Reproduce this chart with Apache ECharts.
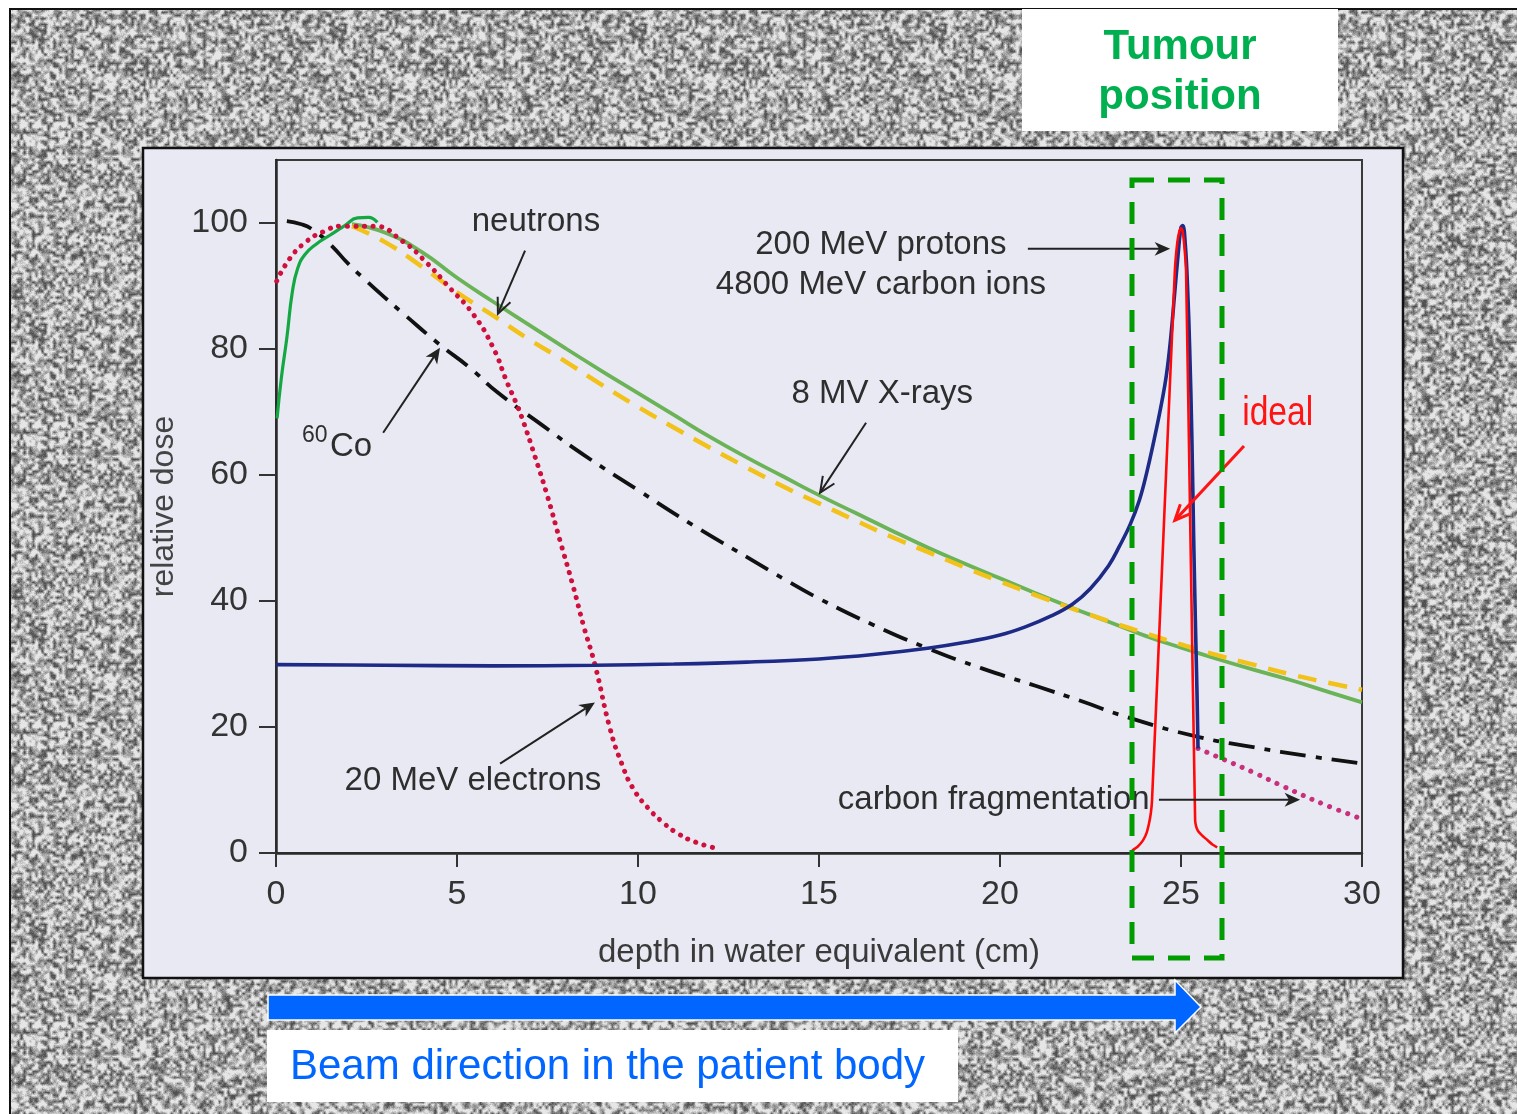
<!DOCTYPE html>
<html>
<head>
<meta charset="utf-8">
<script src="https://cdn.jsdelivr.net/npm/echarts@6/dist/echarts.min.js"></script>
<style>html,body{margin:0;padding:0;background:#fff}#c{width:1517px;height:1114px}</style>
</head>
<body>
<div id="c"></div>
<script>
// ---------------- data (depth cm, relative dose) ----------------
const xTicks = [0, 5, 10, 15, 20, 25, 30];
const yTicks = [0, 20, 40, 60, 80, 100];

const co60 = [[0.3,100.3],[0.7,99.8],[1,99],[1.5,96.6],[2,93.5],[2.5,90.8],[3,88.2],[3.5,85.7],[4.5,80.8],[5.36,77],[6.1,73.2],[7.38,67.8],[8.5,63.2],[10,57.6],[11.53,52],[13,47],[14,43.6],[15.03,40.3],[16.5,36.2],[18,32.5],[19.5,29.3],[21,26.5],[22.2,24.2],[23.6,21.4],[25.5,18.4],[27,16.8],[28.5,15.4],[30,14.2]];

const xrayBuildup = [[0.03,69],[0.15,75.5],[0.3,81.8],[0.45,89],[0.6,92.8],[0.8,95],[1.1,96.6],[1.5,98.1],[1.9,99.6],[2.25,100.8],[2.55,100.9],[2.8,100.1]];

const xrays = [[2.1,99.8],[3,98.5],[4,95.5],[5,91.3],[6,87.5],[7,83.8],[8,80.1],[9,76.5],[10,73],[11,69.5],[12,66],[13,62.8],[14,59.8],[15,56.8],[16,54],[17,51.2],[18,48.5],[19,46],[20,43.6],[21,41.2],[22,38.9],[23,36.7],[24,34.5],[25,32.6],[26,30.8],[27,29.1],[28,27.5],[29,25.7],[30,23.9]];

const neutrons = [[2.1,99.5],[3,97],[4,93.2],[5,89],[6,85.3],[7,81.5],[8,78],[9,74.3],[10,70.8],[11,67.5],[12,64.3],[13,61.2],[14,58.2],[15,55.5],[16,52.8],[17,50.2],[18,47.8],[19,45.4],[20,43.1],[21,40.9],[22,38.8],[23,36.8],[24,34.9],[25,33.1],[26,31.4],[27,29.9],[28,28.4],[29,27.1],[30,25.9]];

const electrons = [[0.02,90.8],[0.4,94.5],[0.85,97.1],[1.3,98.6],[1.8,99.5],[2.7,99.5],[3.5,97.1],[4.16,93.7],[4.8,89.7],[5.45,85.5],[6.0,80.2],[6.37,74.9],[6.65,71.2],[6.83,68.5],[7.15,63],[7.48,57],[7.85,49.5],[8.21,42.3],[8.5,36],[8.81,29.9],[9.23,19.7],[9.55,14.2],[9.87,10.2],[10.3,7],[10.7,4.8],[11.1,3.1],[11.6,1.7],[12.2,0.7]];

const protons = [[0,29.9],[3,29.8],[6,29.7],[8.8,29.8],[11,30],[13,30.3],[15,30.8],[16.5,31.5],[18,32.5],[19,33.4],[20,34.6],[20.7,35.9],[21.4,37.6],[22,39.5],[22.5,42],[23,45.6],[23.3,48.7],[23.6,52.2],[23.85,56],[24.05,60.3],[24.25,65.4],[24.45,71],[24.6,76],[24.72,82],[24.82,88.5],[24.92,95],[25.0,99.3],[25.05,99.6],[25.12,96.5],[25.18,90],[25.24,80],[25.3,66],[25.35,50],[25.4,36],[25.44,26],[25.47,16.6]];

const fragmentation = [[25.47,16.6],[26.2,14.8],[27,12.8],[27.85,10.5],[29,7.6],[30,5.4]];

const ideal = [[23.65,0.4],[23.8,1.0],[23.95,2.0],[24.05,3.2],[24.12,4.8],[24.17,6.5],[24.2,8.4],[24.5,48.4],[24.83,92.4],[24.9,97],[24.96,98.8],[25.0,99.2],[25.04,98.8],[25.09,96.5],[25.14,92.4],[25.26,50.5],[25.39,5.2],[25.42,4.2],[25.48,3.4],[25.58,2.8],[25.72,2.1],[25.86,1.4],[26.0,0.9]];

// annotations in data coordinates
const labelTexts = [
  {text: 'neutrons', at: [7.18, 100.2], align: 'center'},
  {text: '200 MeV protons', at: [16.71, 96.5], align: 'center'},
  {text: '4800 MeV carbon ions', at: [16.71, 90.2], align: 'center'},
  {text: '8 MV X-rays', at: [16.75, 72.9], align: 'center'},
  {text: '20 MeV electrons', at: [5.44, 11.5], align: 'center'},
  {text: 'carbon fragmentation', at: [15.52, 8.36], align: 'left'}
];
const labelArrows = [
  {from: [6.88, 95.6], to: [6.13, 85.6], kind: 'open'},
  {from: [2.96, 66.7], to: [4.53, 80.2], kind: 'filled'},
  {from: [16.3, 68.3], to: [15.03, 57.2], kind: 'open'},
  {from: [20.77, 95.9], to: [24.7, 95.9], kind: 'filled'},
  {from: [6.19, 14.2], to: [8.81, 23.9], kind: 'filled'},
  {from: [24.39, 8.46], to: [28.29, 8.46], kind: 'filled'}
];
const idealLabel = {text: 'ideal', at: [26.69, 69.7]};
const idealArrow = {from: [26.74, 64.6], to: [24.83, 52.8]};
const coLabel = {sup: '60', supAt: [0.72, 66.2], main: 'Co', mainAt: [1.49, 64.5]};

// ---------------- chart ----------------
const FONT = "'Liberation Sans', Arial, sans-serif";
const chart = echarts.init(document.getElementById('c'), null, {renderer: 'canvas', width: 1517, height: 1114});

const lineBase = {type: 'line', symbol: 'none', showSymbol: false, silent: true, animation: false, clip: true};

chart.setOption({
  backgroundColor: '#ffffff',
  animation: false,
  textStyle: {fontFamily: FONT},
  grid: {left: 276, top: 160, width: 1086, height: 693, show: true, borderColor: '#3a3a3a', borderWidth: 2, backgroundColor: 'transparent'},
  xAxis: {
    type: 'value', min: 0, max: 30, interval: 5,
    name: 'depth in water equivalent (cm)', nameLocation: 'middle', nameGap: 83,
    nameTextStyle: {fontSize: 33, color: '#3a3a3a', fontFamily: FONT},
    axisLine: {show: true, onZero: false, lineStyle: {color: '#2a2a2a', width: 2.5}},
    axisTick: {show: true, inside: false, length: 14, customValues: xTicks, lineStyle: {color: '#333', width: 2}},
    axisLabel: {fontSize: 34, color: '#333', margin: 25, customValues: xTicks, fontFamily: FONT},
    splitLine: {show: false}
  },
  yAxis: {
    type: 'value', min: 0, max: 110, interval: 20,
    name: 'relative dose', nameLocation: 'middle', nameGap: 76, nameRotate: 90,
    nameTextStyle: {fontSize: 32, color: '#444', fontFamily: FONT},
    axisLine: {show: true, onZero: false, lineStyle: {color: '#2a2a2a', width: 2.5}},
    axisTick: {show: true, inside: false, length: 17, customValues: yTicks, lineStyle: {color: '#333', width: 2}},
    axisLabel: {fontSize: 34, color: '#333', margin: 28, customValues: yTicks, fontFamily: FONT},
    splitLine: {show: false}
  },
  series: [
    Object.assign({}, lineBase, {name: '8 MV X-rays', data: xrays, smooth: 0.5, z: 3,
      lineStyle: {color: '#6ab356', width: 3.8}}),
    Object.assign({}, lineBase, {name: 'neutrons', data: neutrons, smooth: 0.5, z: 4,
      lineStyle: {color: '#f2c21a', width: 4.5, type: [19, 12]}}),
    Object.assign({}, lineBase, {name: '60Co', data: co60, smooth: 0.5, z: 5,
      lineStyle: {color: '#111111', width: 3.8, type: [26, 10, 6, 10]}}),
    Object.assign({}, lineBase, {name: '8 MV X-rays build-up', data: xrayBuildup, smooth: 0.5, z: 6,
      lineStyle: {color: '#14a843', width: 3.2}}),
    Object.assign({}, lineBase, {name: '20 MeV electrons', data: electrons, smooth: 0.5, z: 6,
      lineStyle: {color: '#d0103c', width: 5, type: [0.1, 8.5], cap: 'round'}}),
    Object.assign({}, lineBase, {name: 'carbon fragmentation', data: fragmentation, smooth: 0.4, z: 6,
      lineStyle: {color: '#c8307c', width: 5, type: [0.1, 9.5], cap: 'round'}}),
    Object.assign({}, lineBase, {name: '200 MeV protons', data: protons, smooth: 0.4, z: 7,
      lineStyle: {color: '#1d2a86', width: 3.6}}),
    Object.assign({}, lineBase, {name: 'ideal', data: ideal, smooth: 0.15, z: 8,
      lineStyle: {color: '#ff0a0a', width: 2.6}})
  ]
});

// ---------------- decoration: seamless grain texture ----------------
function grainCanvas() {
  const n = 100, up = 3, N = n * up;
  let s = 987654321;
  const next = () => { s = (Math.imul(s, 1103515245) + 12345) >>> 0; return (s >>> 8) / 16777216; };
  const raw = new Float32Array(n * n);
  for (let i = 0; i < n * n; i++) raw[i] = next();
  const fine = new Float32Array(N * N);
  for (let i = 0; i < N * N; i++) fine[i] = next();
  const at = (x, y) => raw[((y % n + n) % n) * n + ((x % n + n) % n)];
  const cv = document.createElement('canvas');
  cv.width = N; cv.height = N;
  const ctx = cv.getContext('2d');
  const img = ctx.createImageData(N, N);
  for (let y = 0; y < N; y++) {
    const fy = y / up, y0 = Math.floor(fy), ty = fy - y0;
    for (let x = 0; x < N; x++) {
      const fx = x / up, x0 = Math.floor(fx), tx = fx - x0;
      const v = (at(x0, y0) * (1 - tx) + at(x0 + 1, y0) * tx) * (1 - ty) +
                (at(x0, y0 + 1) * (1 - tx) + at(x0 + 1, y0 + 1) * tx) * ty;
      const w = v * 0.85 + fine[y * N + x] * 0.15;
      const g = Math.max(80, Math.min(230, 170 + (w - 0.5) * 250));
      const k = (y * N + x) * 4;
      img.data[k] = g; img.data[k + 1] = g; img.data[k + 2] = g; img.data[k + 3] = 255;
    }
  }
  ctx.putImageData(img, 0, 0);
  return cv;
}

const px = p => chart.convertToPixel({gridIndex: 0}, p);
const G = [];

G.push({type: 'rect', silent: true, z: -30, shape: {x: 10, y: 9, width: 1530, height: 1130},
  style: {fill: {image: grainCanvas(), repeat: 'repeat'}, stroke: '#111', lineWidth: 2}});
G.push({type: 'rect', silent: true, z: -20, shape: {x: 143, y: 148, width: 1260, height: 830},
  style: {fill: '#e9e9f4', stroke: '#111', lineWidth: 2.5}});

function arrow(from, to, color, width, kind) {
  const a = px(from), b = px(to);
  const ang = Math.atan2(b[1] - a[1], b[0] - a[0]);
  const L = 17, w = 0.42;
  const p1 = [b[0] - L * Math.cos(ang - w), b[1] - L * Math.sin(ang - w)];
  const p2 = [b[0] - L * Math.cos(ang + w), b[1] - L * Math.sin(ang + w)];
  const els = [];
  if (kind === 'filled') {
    const notch = [b[0] - L * 0.65 * Math.cos(ang), b[1] - L * 0.65 * Math.sin(ang)];
    els.push({type: 'line', silent: true, z: 55, shape: {x1: a[0], y1: a[1], x2: notch[0], y2: notch[1]},
      style: {stroke: color, lineWidth: width}});
    els.push({type: 'polygon', silent: true, z: 55, shape: {points: [p1, b, p2, notch]}, style: {fill: color}});
  } else {
    els.push({type: 'line', silent: true, z: 55, shape: {x1: a[0], y1: a[1], x2: b[0], y2: b[1]},
      style: {stroke: color, lineWidth: width}});
    els.push({type: 'polyline', silent: true, z: 55, shape: {points: [p1, b, p2]},
      style: {stroke: color, lineWidth: width, fill: null}});
  }
  return els;
}

labelTexts.forEach(t => {
  const p = px(t.at);
  G.push({type: 'text', silent: true, z: 56, x: p[0], y: p[1],
    style: {text: t.text, font: '33px ' + FONT, fill: '#2e2e2e', align: t.align, verticalAlign: 'middle'}});
});
labelArrows.forEach(a => G.push(...arrow(a.from, a.to, '#222', 2, a.kind)));

(() => {
  const p = px(coLabel.supAt), q = px(coLabel.mainAt);
  G.push({type: 'text', silent: true, z: 56, x: p[0], y: p[1],
    style: {text: coLabel.sup, font: '23px ' + FONT, fill: '#2e2e2e', align: 'left', verticalAlign: 'middle'}});
  G.push({type: 'text', silent: true, z: 56, x: q[0], y: q[1],
    style: {text: coLabel.main, font: '33px ' + FONT, fill: '#2e2e2e', align: 'left', verticalAlign: 'middle'}});
  const r = px(idealLabel.at);
  G.push({type: 'text', silent: true, z: 56, x: r[0], y: r[1], scaleX: 0.82, originX: 0, originY: 0,
    style: {text: idealLabel.text, font: '41px ' + FONT, fill: '#ff1414', align: 'left', verticalAlign: 'middle'}});
})();
G.push(...arrow(idealArrow.from, idealArrow.to, '#ff1414', 3, 'open'));

// tumour region box
G.push({type: 'rect', silent: true, z: 60, shape: {x: 1132, y: 180, width: 90, height: 778},
  style: {fill: null, stroke: '#009c00', lineWidth: 5, lineDash: [22, 14]}});

// tumour label
G.push({type: 'rect', silent: true, z: 40, shape: {x: 1022, y: 9, width: 316, height: 122}, style: {fill: '#ffffff'}});
G.push({type: 'text', silent: true, z: 41, x: 1180, y: 47,
  style: {text: 'Tumour', font: 'bold 42px ' + FONT, fill: '#00b050', align: 'center', verticalAlign: 'middle'}});
G.push({type: 'text', silent: true, z: 41, x: 1180, y: 97,
  style: {text: 'position', font: 'bold 42px ' + FONT, fill: '#00b050', align: 'center', verticalAlign: 'middle'}});

// beam direction arrow
G.push({type: 'polygon', silent: true, z: 40,
  shape: {points: [[268, 995], [1175, 995], [1175, 980], [1201, 1007], [1175, 1033], [1175, 1020], [268, 1020]]},
  style: {fill: '#0066ff', stroke: '#ffffff', lineWidth: 1.5}});
G.push({type: 'rect', silent: true, z: 40, shape: {x: 267, y: 1030, width: 691, height: 72}, style: {fill: '#ffffff'}});
G.push({type: 'text', silent: true, z: 41, x: 290, y: 1067,
  style: {text: 'Beam direction in the patient body', font: '42px ' + FONT, fill: '#0066ff', align: 'left', verticalAlign: 'middle'}});

chart.setOption({graphic: {elements: G}});
</script>
</body>
</html>
